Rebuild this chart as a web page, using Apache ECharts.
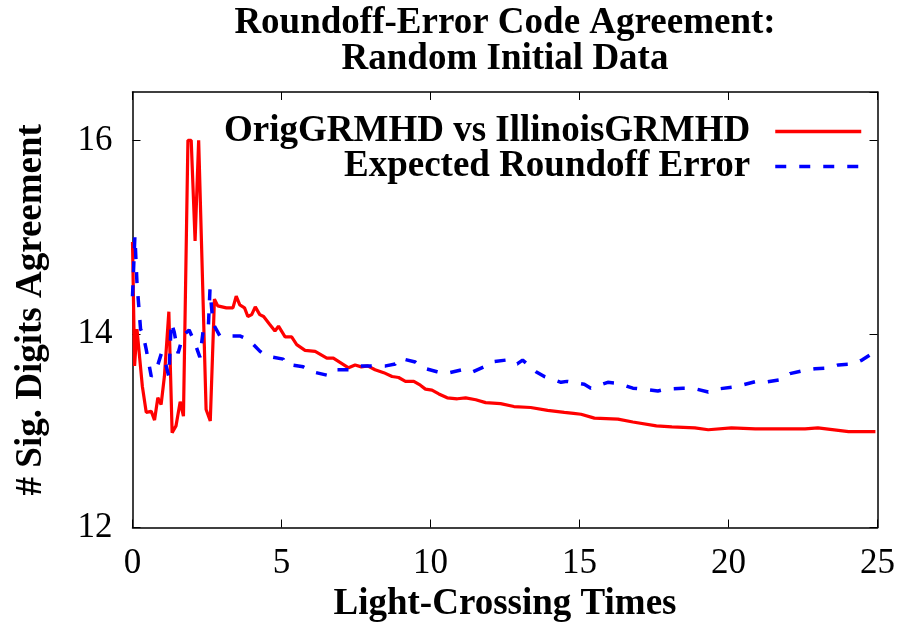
<!DOCTYPE html>
<html>
<head>
<meta charset="utf-8">
<script src="https://cdn.jsdelivr.net/npm/echarts@6/dist/echarts.min.js"></script>
<style>html,body{margin:0;padding:0;background:#fff}#c{width:904px;height:623px}</style>
</head>
<body>
<div id="c"></div>
<script>
const titleLines = ['Roundoff-Error Code Agreement:', 'Random Initial Data'];
const xAxisName = 'Light-Crossing Times';
const yAxisName = '# Sig. Digits Agreement';
const seriesNames = ['OrigGRMHD vs IllinoisGRMHD', 'Expected Roundoff Error'];
const xTicks = [0, 5, 10, 15, 20, 25];
const yTicks = [12, 14, 16];

const redX = [0,0.07,0.15,0.33,0.46,0.63,0.74,0.85,0.96,1.07,1.22,1.33,1.46,1.6,1.71,1.86,1.97,2.1,2.22,2.47,2.61,2.75,2.86,3.15,3.37,3.48,3.6,3.76,3.87,4.0,4.12,4.27,4.4,4.6,4.78,4.9,5.12,5.34,5.51,5.79,6.13,6.52,6.74,7.25,7.47,7.68,7.89,8.14,8.43,8.71,8.93,9.16,9.44,9.66,9.83,10.05,10.28,10.56,10.9,11.18,11.52,11.85,12.35,12.8,13.36,13.93,14.49,14.8,15.05,15.5,16.29,16.79,17.58,18.1,18.87,19.32,20.1,20.9,21.78,22.57,23.0,24.03,24.93];
const redY = [14.95,13.67,14.05,13.46,13.19,13.2,13.11,13.34,13.27,13.56,14.23,12.98,13.05,13.3,13.15,16.0,16.0,14.96,16.0,13.22,13.1,14.36,14.29,14.27,14.27,14.39,14.3,14.27,14.18,14.2,14.28,14.2,14.18,14.1,14.03,14.08,13.97,13.97,13.89,13.83,13.82,13.75,13.75,13.65,13.68,13.66,13.67,13.63,13.6,13.56,13.55,13.51,13.51,13.47,13.43,13.42,13.38,13.34,13.33,13.34,13.32,13.29,13.28,13.25,13.24,13.21,13.19,13.18,13.17,13.13,13.12,13.09,13.05,13.04,13.03,13.01,13.03,13.02,13.02,13.02,13.03,12.99,12.99];

const blueX = [0,0.08,0.15,0.27,0.35,0.46,0.63,0.8,0.97,1.08,1.22,1.3,1.4,1.53,1.69,1.9,2.09,2.26,2.37,2.54,2.6,2.7,2.93,3.2,3.6,3.9,4.28,4.5,5.06,5.12,5.73,6.02,6.58,6.8,7.3,7.64,8.09,8.5,8.82,8.97,9.49,9.72,10.22,10.5,11.07,11.35,11.8,12.02,12.53,12.69,12.91,13.09,13.54,13.82,14.38,14.58,15.16,15.38,15.95,16.3,16.79,17.1,17.63,17.9,18.47,18.8,19.32,19.6,20.16,20.44,20.94,21.2,21.78,22.06,22.63,22.9,23.41,23.69,24.2,24.48,24.93];
const blueY = [14.39,15.01,14.53,14.05,14.0,13.84,13.56,13.63,13.8,13.73,13.56,14.12,14.02,13.8,13.98,14.04,13.91,13.76,14.03,14.03,14.46,14.11,13.98,13.98,13.98,13.94,13.82,13.77,13.74,13.69,13.66,13.61,13.57,13.63,13.63,13.67,13.67,13.67,13.69,13.75,13.71,13.65,13.61,13.59,13.63,13.6,13.66,13.71,13.73,13.69,13.69,13.73,13.61,13.56,13.5,13.51,13.48,13.44,13.5,13.49,13.44,13.43,13.41,13.43,13.44,13.44,13.4,13.43,13.45,13.47,13.51,13.5,13.53,13.59,13.63,13.64,13.65,13.68,13.69,13.73,13.82];

const FONT = 'Liberation Serif';
const BIG = 37;
const chart = echarts.init(document.getElementById('c'), null, {renderer: 'canvas'});
const pair = (xs, ys) => xs.map((x, i) => [x, ys[i]]);
const yLabel = v => (yTicks.indexOf(v) >= 0 ? String(v) : '');
const xLabel = v => (xTicks.indexOf(v) >= 0 ? String(v) : '');

const axisCommon = {
  axisLine: {show: true, onZero: false, lineStyle: {color: '#000', width: 1.5}},
  axisTick: {show: true, inside: true, length: 8, lineStyle: {color: '#000', width: 1}},
  splitLine: {show: false}
};
const legendCommon = {
  right: 36, orient: 'vertical', align: 'right',
  itemWidth: 86, itemHeight: 20,
  itemStyle: {color: 'rgba(0,0,0,0)', borderWidth: 0, opacity: 0},
  lineStyle: {width: 3.5},
  textStyle: {fontFamily: FONT, fontWeight: 'bold', fontSize: BIG, color: '#000', padding: [0, 20, 0, 0]}
};

chart.setOption({
  animation: false,
  backgroundColor: '#fff',
  title: {
    text: titleLines.join('\n'),
    left: 500, top: 0, textAlign: 'center',
    textStyle: {fontFamily: FONT, fontWeight: 'bold', fontSize: BIG, lineHeight: 36, color: '#000'}
  },
  grid: {left: 132.5, right: 26.5, top: 92, bottom: 95.5, containLabel: false, outerBoundsMode: 'none'},
  legend: [
    Object.assign({}, legendCommon, {data: [seriesNames[0]], top: 108}),
    Object.assign({}, legendCommon, {data: [seriesNames[1]], top: 143})
  ],
  xAxis: [
    Object.assign({}, axisCommon, {
      type: 'value', min: 0, max: 25, interval: 5, position: 'bottom',
      name: xAxisName, nameLocation: 'middle', nameGap: 53,
      nameTextStyle: {fontFamily: FONT, fontWeight: 'bold', fontSize: BIG, color: '#000'},
      axisLabel: {fontFamily: FONT, fontSize: 35, color: '#000', margin: 19, formatter: xLabel}
    }),
    Object.assign({}, axisCommon, {
      type: 'value', min: 0, max: 25, interval: 5, position: 'top',
      axisLabel: {show: false}
    })
  ],
  yAxis: [
    Object.assign({}, axisCommon, {
      type: 'value', min: 12, max: 16.5, interval: 2, position: 'left',
      name: yAxisName, nameLocation: 'middle', nameGap: 83, nameRotate: 90,
      nameTextStyle: {fontFamily: FONT, fontWeight: 'bold', fontSize: BIG, color: '#000'},
      axisLabel: {fontFamily: FONT, fontSize: 35, color: '#000', margin: 20, formatter: yLabel, showMaxLabel: false}
    }),
    Object.assign({}, axisCommon, {
      type: 'value', min: 12, max: 16.5, interval: 2, position: 'right',
      axisLabel: {show: false}
    })
  ],
  series: [
    {
      name: seriesNames[0], type: 'line', data: pair(redX, redY), xAxisIndex: 0, yAxisIndex: 0,
      symbol: 'none', clip: true,
      lineStyle: {color: '#ff0000', width: 3.2}, itemStyle: {color: '#ff0000'}
    },
    {
      name: seriesNames[1], type: 'line', data: pair(blueX, blueY), xAxisIndex: 0, yAxisIndex: 0,
      symbol: 'none', clip: true,
      lineStyle: {color: '#0000ff', width: 3.5, type: [11, 13]}, itemStyle: {color: '#0000ff'}
    }
  ]
});
</script>
</body>
</html>
